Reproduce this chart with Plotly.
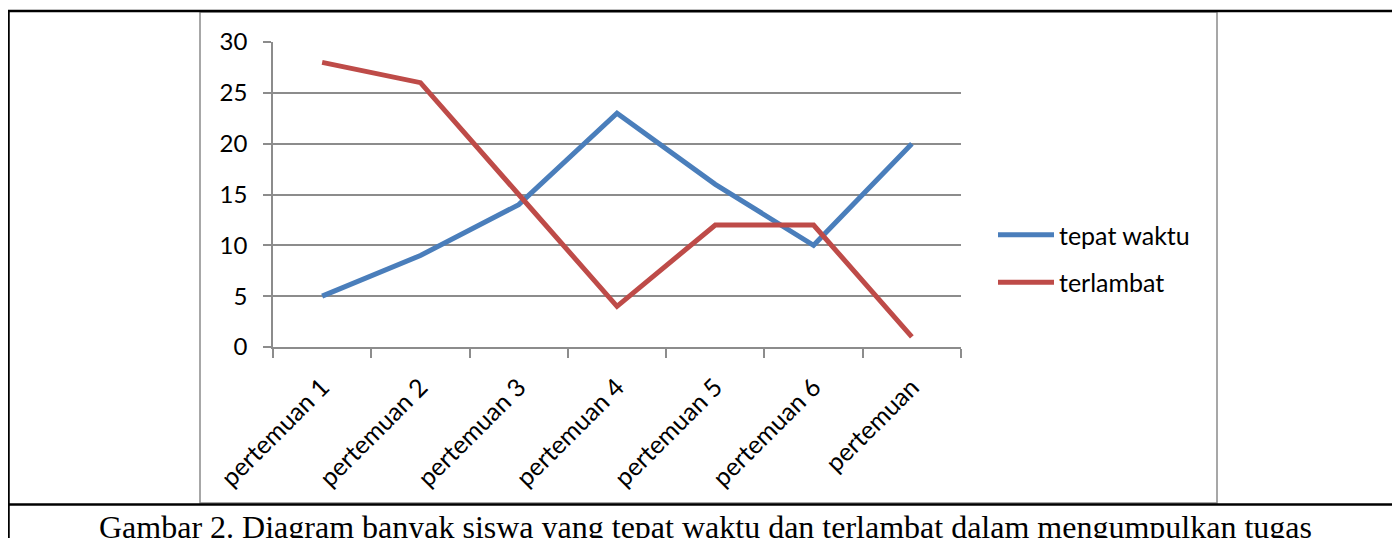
import plotly.graph_objects as go

categories = ["pertemuan 1", "pertemuan 2", "pertemuan 3", "pertemuan 4",
              "pertemuan 5", "pertemuan 6", "pertemuan"]
tepat_waktu = [5, 9, 14, 23, 16, 10, 20]
terlambat = [28, 26, 15, 4, 12, 12, 1]
y_ticks = [0, 5, 10, 15, 20, 25, 30]
caption = "Gambar 2. Diagram banyak siswa yang tepat waktu dan terlambat dalam mengumpulkan tugas"

OFF = 8  # page body margin
W, H = 1400 - OFF, 538 - OFF
L, R, T, B = 273 - OFF, 961 - OFF, 42 - OFF, 347 - OFF   # plot area in figure pixels
GRID = "#8c8c8c"
FONT = "Lato"

fig = go.Figure()
fig.add_trace(go.Scatter(x=categories, y=tepat_waktu, mode="lines", name="tepat waktu",
                         line=dict(color="#4a7ebb", width=5), legendgroup="a"))
fig.add_trace(go.Scatter(x=categories, y=terlambat, mode="lines", name="terlambat",
                         line=dict(color="#be4b48", width=5), legendgroup="b"))

def px(x):
    # x given in page pixels
    return (x - OFF - L) / (R - L)

def py(y):
    return (B - (y - OFF)) / (B - T)

shapes = [
    # chart area border
    dict(type="rect", xref="paper", yref="paper", x0=px(200), x1=px(1217), y0=py(503), y1=py(12),
         line=dict(color="#8a8a8a", width=1.5), layer="below"),
    # table borders
    dict(type="line", xref="paper", yref="paper", x0=px(7), x1=px(1402), y0=py(11), y1=py(11),
         line=dict(color="black", width=2.5)),
    dict(type="line", xref="paper", yref="paper", x0=px(7), x1=px(1402), y0=py(504.5), y1=py(504.5),
         line=dict(color="black", width=2.5)),
    dict(type="line", xref="paper", yref="paper", x0=px(8.5), x1=px(8.5), y0=py(10), y1=py(542),
         line=dict(color="black", width=2.5)),
]

fig.update_layout(
    template="none",
    width=W, height=H,
    margin=dict(l=L, r=W - R, t=T, b=H - B, pad=0),
    paper_bgcolor="white", plot_bgcolor="white",
    font=dict(family=FONT, size=24, color="black"),
    shapes=shapes,
    showlegend=True,
    legend=dict(x=px(993), y=py(212), xanchor="left", yanchor="top",
                font=dict(family=FONT, size=25, color="black"),
                traceorder="grouped", tracegroupgap=12, bgcolor="rgba(0,0,0,0)",
                itemwidth=56),
    annotations=[dict(text=caption, xref="paper", yref="paper", x=px(705), y=py(507),
                      xanchor="center", yanchor="top", showarrow=False,
                      font=dict(family="Liberation Serif", size=32, color="black"))],
)

fig.update_xaxes(type="category", range=[-0.5, 6.5], tickangle=-45,
                 showline=True, linecolor=GRID, linewidth=1.5,
                 ticks="outside", tickson="boundaries", ticklen=9, tickcolor=GRID, tickwidth=1.5,
                 showgrid=False, gridcolor="rgba(0,0,0,0)", zeroline=False,
                 ticklabelstandoff=14,
                 tickfont=dict(family=FONT, size=25, color="black"))
fig.update_yaxes(range=[0, 30], tickvals=y_ticks, showline=True, linecolor=GRID, linewidth=1.5,
                 ticks="outside", ticklen=8, tickcolor=GRID, tickwidth=1.5,
                 showgrid=True, gridcolor=GRID, gridwidth=1.5, zeroline=False,
                 ticklabelstandoff=11,
                 tickfont=dict(family=FONT, size=24, color="black"))

fig.write_html("out.html")
